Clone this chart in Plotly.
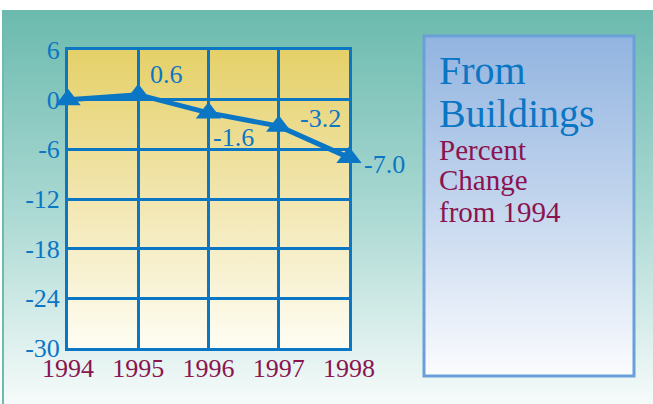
import base64
import plotly.graph_objects as go

# data
years = [1994, 1995, 1996, 1997, 1998]
change = [0.0, 0.6, -1.6, -3.2, -7.0]
point_labels = ["", "0.6", "-1.6", "-3.2", "-7.0"]
y_ticks = [6, 0, -6, -12, -18, -24, -30]
y_tick_text = ["6", "0", "-6", "-12", "-18", "-24", "-30"]
x_tick_text = ["1994", "1995", "1996", "1997", "1998"]

# label placement (pixel shifts), kept apart from the data
label_shift = [(0, 0), (10, 20), (2, -25), (19, 8), (13, -7)]

W, H = 653, 404
L, R, T, B = 68, 349, 50, 348

BLUE = "#0B76C4"
MAROON = "#8A1450"
FONT = "Liberation Serif"


def px(x):
    return (x - L) / (R - L)


def py(y):
    return (B - y) / (B - T)


def gradient(stops):
    s = "".join(f'<stop offset="{o}" stop-color="{c}"/>' for o, c in stops)
    svg = ('<svg xmlns="http://www.w3.org/2000/svg" width="100" height="100" '
           'viewBox="0 0 100 100" preserveAspectRatio="none"><defs>'
           f'<linearGradient id="g" x1="0" y1="0" x2="0" y2="1">{s}</linearGradient>'
           '</defs><rect width="100" height="100" fill="url(#g)"/></svg>')
    return "data:image/svg+xml;base64," + base64.b64encode(svg.encode()).decode()


fig = go.Figure()

fig.add_trace(go.Scatter(
    x=years, y=change,
    mode="lines+markers",
    line=dict(color=BLUE, width=5),
    marker=dict(symbol="triangle-up", size=22, color=BLUE),
    cliponaxis=False,
    hoverinfo="skip",
    showlegend=False,
))

for xv, yv, txt, (dx, dy) in zip(years, change, point_labels, label_shift):
    if not txt:
        continue
    fig.add_annotation(
        x=xv, y=yv, text=txt, showarrow=False,
        xanchor="left", yanchor="middle", xshift=dx, yshift=dy,
        font=dict(family=FONT, size=26, color=BLUE),
    )

images = [
    # page background
    dict(source=gradient([(0, "#6BBAAE"), (0.5, "#A9D8D2"), (1, "#F6FBFA")]),
         xref="paper", yref="paper", x=px(2), y=py(10),
         sizex=px(W + 2) - px(2), sizey=py(10) - py(H),
         xanchor="left", yanchor="top", sizing="stretch", layer="below"),
    # plot area
    dict(source=gradient([(0, "#E5D068"), (0.5, "#F2E6B0"), (1, "#FEFDF3")]),
         xref="x", yref="y", x=1994, y=6, sizex=4, sizey=36,
         xanchor="left", yanchor="top", sizing="stretch", layer="below"),
    # side panel
    dict(source=gradient([(0, "#92B4E0"), (0.5, "#C4D6EE"), (1, "#FBFCFE")]),
         xref="paper", yref="paper", x=px(424), y=py(36),
         sizex=px(634) - px(424), sizey=py(36) - py(376),
         xanchor="left", yanchor="top", sizing="stretch", layer="below"),
]

shapes = [
    dict(type="rect", xref="paper", yref="paper",
         x0=px(424), x1=px(634), y0=py(376), y1=py(36),
         line=dict(color="#6A9FD8", width=3), fillcolor="rgba(0,0,0,0)"),
    dict(type="line", xref="paper", yref="paper",
         x0=px(3), x1=px(3), y0=py(10), y1=py(H),
         line=dict(color="#6DBBAF", width=2)),
]

panel_lines = [
    ("From", 71, 40, BLUE),
    ("Buildings", 113, 40, BLUE),
    ("Percent", 150, 29, MAROON),
    ("Change", 180, 29, MAROON),
    ("from 1994", 212, 29, MAROON),
]
for txt, yc, size, col in panel_lines:
    fig.add_annotation(
        xref="paper", yref="paper", x=px(437), y=py(yc), text=txt,
        showarrow=False, xanchor="left", yanchor="middle",
        font=dict(family=FONT, size=size, color=col),
    )

fig.update_layout(
    width=W, height=H,
    margin=dict(l=L, r=W - R, t=T, b=H - B),
    paper_bgcolor="white",
    plot_bgcolor="rgba(0,0,0,0)",
    images=images,
    shapes=shapes,
    xaxis=dict(
        range=[1994, 1998], tickvals=years, ticktext=x_tick_text,
        showgrid=True, gridcolor=BLUE, gridwidth=3,
        showline=True, linecolor=BLUE, linewidth=3, mirror=True,
        zeroline=False, ticks="", ticklabelstandoff=-5,
        tickfont=dict(family=FONT, size=26, color=MAROON),
    ),
    yaxis=dict(
        range=[-30, 6], tickvals=y_ticks, ticktext=y_tick_text,
        showgrid=True, gridcolor=BLUE, gridwidth=3,
        showline=True, linecolor=BLUE, linewidth=3, mirror=True,
        zeroline=False, ticks="",
        tickfont=dict(family=FONT, size=26, color=BLUE),
    ),
)

# drop the browser's default page margin so the figure sits at 0,0
fig.write_html("out.html", config={"displayModeBar": False},
               post_script="document.body.style.margin='0';")
